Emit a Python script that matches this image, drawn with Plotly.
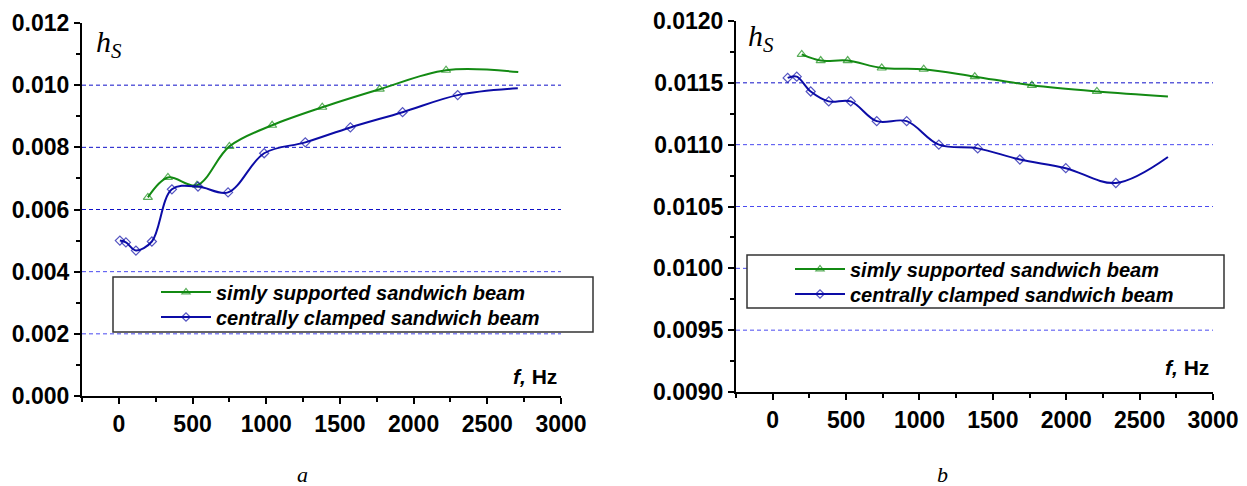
import plotly.graph_objects as go

# ---- data ----
# panel a
a_ss_x = [197, 333, 530, 750, 1040, 1380, 1770, 2220, 2710]
a_ss_y = [0.00639, 0.00703, 0.00678, 0.00803, 0.00871, 0.00929, 0.00987, 0.01048, 0.01042]
a_cc_x = [7, 48, 116, 224, 360, 537, 741, 986, 1265, 1571, 1925, 2299, 2707]
a_cc_y = [0.00500, 0.00494, 0.00468, 0.00497, 0.00665, 0.00674, 0.00655, 0.00781, 0.00816,
          0.00864, 0.00913, 0.00968, 0.00990]
# panel b
b_ss_x = [198, 327, 511, 743, 1029, 1377, 1766, 2209, 2693]
b_ss_y = [0.01173, 0.01168, 0.01168, 0.01162, 0.01161, 0.01155, 0.01148, 0.01143, 0.01139]
b_cc_x = [102, 164, 259, 382, 532, 709, 913, 1132, 1397, 1684, 1997, 2338, 2693]
b_cc_y = [0.01154, 0.01155, 0.01143, 0.01135, 0.01135, 0.01119, 0.01119, 0.01100, 0.01097,
          0.01088, 0.01081, 0.01069, 0.01090]

names = ["simly supported sandwich beam", "centrally clamped sandwich beam"]
a_grid = [0.002, 0.004, 0.006, 0.008, 0.010]
b_grid = [0.0095, 0.0100, 0.0105, 0.0110, 0.0115]

GREEN = "#138a13"
BLUE = "#0c0ca6"
W, H = 1247, 486


def sizes(n, s):
    # last point is the end of the curve, drawn without a marker
    return [s] * (n - 1) + [0]


fig = go.Figure()

# one legend per entry so the rows can be spaced like the original
series = [
    (a_ss_x, a_ss_y, "x", "y", "legend", GREEN, "triangle-up-open", 8, names[0]),
    (a_cc_x, a_cc_y, "x", "y", "legend3", BLUE, "diamond-open", 7, names[1]),
    (b_ss_x, b_ss_y, "x2", "y2", "legend2", GREEN, "triangle-up-open", 8, names[0]),
    (b_cc_x, b_cc_y, "x2", "y2", "legend4", BLUE, "diamond-open", 7, names[1]),
]
for xs, ys, xa, ya, lg, col, sym, ms, nm in series:
    fig.add_trace(go.Scatter(
        x=xs, y=ys, xaxis=xa, yaxis=ya, legend=lg, name=nm,
        mode="lines+markers",
        line=dict(color=col, width=2, shape="spline", smoothing=1),
        marker=dict(symbol=sym, size=sizes(len(xs), ms), color=col,
                    line=dict(color=col, width=1.2)),
    ))

tickfont = dict(family="Liberation Sans, Arial", size=23, color="black", weight="bold")
axis_common = dict(showline=True, linecolor="black", linewidth=2, ticks="outside",
                   ticklen=6, tickwidth=2, tickcolor="black", showgrid=False,
                   zeroline=False, tickfont=tickfont, automargin=False)

xa_common = dict(axis_common, range=[-250, 3000], dtick=500, tick0=0,
                 minor=dict(dtick=250, ticks="outside", ticklen=4, tickcolor="black", tickwidth=1.5))

fig.update_layout(
    width=W, height=H,
    margin=dict(l=0, r=0, t=0, b=0, autoexpand=False),
    plot_bgcolor="white", paper_bgcolor="white",
    xaxis=dict(xa_common, domain=[82 / W, 561 / W], anchor="y"),
    yaxis=dict(axis_common, domain=[(H - 396) / H, (H - 23) / H], anchor="x",
               range=[0, 0.012], dtick=0.002, tickformat=".3f",
               minor=dict(dtick=0.001, ticks="outside", ticklen=4, tickcolor="black", tickwidth=1.5)),
    xaxis2=dict(xa_common, domain=[736 / W, 1213 / W], anchor="y2"),
    yaxis2=dict(axis_common, domain=[(H - 392) / H, (H - 21) / H], anchor="x2",
                range=[0.009, 0.012], dtick=0.0005, tickformat=".4f",
                minor=dict(dtick=0.00025, ticks="outside", ticklen=4, tickcolor="black", tickwidth=1.5)),
    showlegend=True,
)

legfont = dict(family="Liberation Sans, Arial", size=20, color="black",
               weight="bold", style="italic")
leg_common = dict(xanchor="left", yanchor="middle", bgcolor="rgba(0,0,0,0)",
                  borderwidth=0, font=legfont, itemwidth=50)
fig.update_layout(
    legend=dict(leg_common, x=156 / W, y=(H - 292) / H),
    legend3=dict(leg_common, x=156 / W, y=(H - 317) / H),
    legend2=dict(leg_common, x=790 / W, y=(H - 269) / H),
    legend4=dict(leg_common, x=790 / W, y=(H - 294) / H),
)

# dashed reference lines
for g in a_grid:
    col = "#1010c8" if g >= 0.006 else "#4a4af0"
    fig.add_shape(type="line", xref="x domain", yref="y", x0=0, x1=1, y0=g, y1=g,
                  line=dict(color=col, width=1, dash="4px,3px"), layer="below")
for g in b_grid:
    col = "#1010c8" if g >= 0.0115 else "#4a4af0"
    fig.add_shape(type="line", xref="x2 domain", yref="y2", x0=0, x1=1, y0=g, y1=g,
                  line=dict(color=col, width=1, dash="4px,3px"), layer="below")

# legend frames
fig.add_shape(type="rect", xref="paper", yref="paper",
              x0=113 / W, x1=593 / W, y0=(H - 332) / H, y1=(H - 277) / H,
              line=dict(color="#333333", width=1.5), fillcolor="white", layer="above")
fig.add_shape(type="rect", xref="paper", yref="paper",
              x0=747 / W, x1=1224 / W, y0=(H - 308) / H, y1=(H - 255) / H,
              line=dict(color="#333333", width=1.5), fillcolor="white", layer="above")

# axis labels and panel letters
serif = "Liberation Serif, Times New Roman"
for xr, yr, xp, yp in [("x domain", "y domain", 0.025, 1.0), ("x2 domain", "y2 domain", 0.02, 1.01)]:
    fig.add_annotation(xref=xr, yref=yr, x=xp, y=yp, xanchor="left", yanchor="top",
                       text="<i>h<sub>S</sub></i>", showarrow=False,
                       font=dict(family=serif, size=30, color="black"))

for xr, yr, yp in [("x domain", "y domain", 0.015), ("x2 domain", "y2 domain", 0.03)]:
    fig.add_annotation(xref=xr, yref=yr, x=0.995, y=yp, xanchor="right", yanchor="bottom",
                       text="<i>f,</i> Hz", showarrow=False,
                       font=dict(family="Liberation Sans, Arial", size=21, color="black",
                                 weight="bold"))

for letter, xp in [("a", 302), ("b", 942)]:
    fig.add_annotation(xref="paper", yref="paper", x=xp / W, y=(H - 474) / H,
                       xanchor="center", yanchor="middle",
                       text="<i>%s</i>" % letter, showarrow=False,
                       font=dict(family=serif, size=22, color="black"))

fig.write_html("out.html", config={"displayModeBar": False},
               post_script="document.body.style.margin='0';")
